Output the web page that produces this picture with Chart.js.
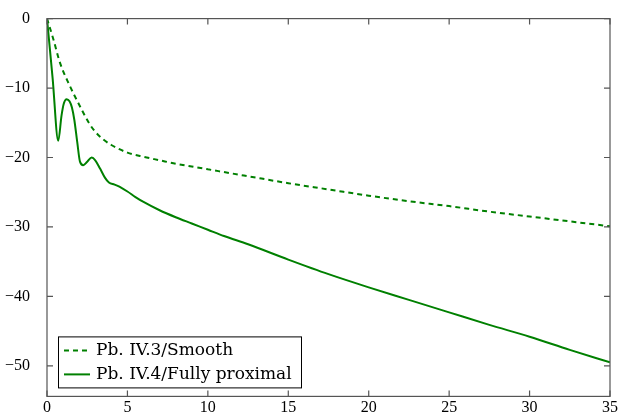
<!DOCTYPE html>
<html lang="en">
<head>
    <meta charset="UTF-8">
    <title>Smooth vs fully proximal</title>
    <script src="https://cdn.jsdelivr.net/npm/chart.js"></script>
    <style>
        body { margin: 0; background: #fff; }
        #wrap { width: 628px; height: 415px; }
    </style>
</head>
<body>
<div id="wrap"><canvas id="mainChart" width="628" height="415"></canvas></div>
<script>
// values
const smoothX = [0, 0.4, 0.8, 1.4, 2.0, 2.6, 3.0, 3.5, 4.0, 4.5, 5.0, 6.0, 7.0, 8.0, 9.0, 10.0,
    12.5, 15.0, 17.5, 20.0, 22.5, 25.0, 27.5, 30.0, 32.5, 35.0];
const smoothY = [0, -3.0, -6.3, -9.6, -12.4, -15.0, -16.3, -17.4, -18.2, -18.8, -19.3, -19.9, -20.4, -20.9, -21.3, -21.7,
    -22.7, -23.7, -24.6, -25.5, -26.3, -27.0, -27.8, -28.5, -29.2, -29.9];

const proxX = [0, 0.35, 0.7, 0.9, 1.05, 1.22, 1.4, 1.55, 1.7, 1.88, 2.05, 2.25, 2.5, 2.78, 3.0, 3.3, 3.6, 3.85,
    4.2, 4.5, 5.0, 5.5, 6.0, 7.0, 8.0, 9.0, 10.0, 11.0, 12.5, 15.0, 17.5, 20.0, 22.5, 25.0, 27.5, 30.0, 32.5, 35.0];
const proxY = [0, -8.6, -17.6, -14.0, -12.2, -11.6, -11.9, -12.8, -14.6, -17.8, -20.6, -21.1, -20.6, -20.0, -20.4, -21.6, -22.9, -23.6,
    -23.9, -24.2, -24.9, -25.7, -26.4, -27.6, -28.6, -29.5, -30.4, -31.3, -32.5, -34.7, -36.8, -38.7, -40.5, -42.3, -44.1, -45.8, -47.7, -49.5];

const xTicks = [0, 5, 10, 15, 20, 25, 30, 35];
const yTicks = [0, -10, -20, -30, -40, -50];
const seriesNames = ['Pb. IV.3/Smooth', 'Pb. IV.4/Fully proximal'];

const green = 'rgb(0,128,0)';
const frameColor = '#555';

function pairs(xs, ys) {
    return xs.map((x, i) => ({x: x, y: ys[i]}));
}

// box around the plot with small inward ticks on every side
const framePlugin = {
    id: 'frame',
    afterDraw(chart) {
        const c = chart.ctx, a = chart.chartArea;
        const xs = chart.scales.x, ys = chart.scales.y;
        c.save();
        c.strokeStyle = frameColor;
        c.lineWidth = 1.2;
        c.strokeRect(a.left, a.top, a.right - a.left, a.bottom - a.top);
        c.beginPath();
        xTicks.forEach(v => {
            const p = xs.getPixelForValue(v);
            c.moveTo(p, a.bottom); c.lineTo(p, a.bottom - 6);
            c.moveTo(p, a.top); c.lineTo(p, a.top + 6);
        });
        yTicks.forEach(v => {
            const p = ys.getPixelForValue(v);
            c.moveTo(a.left, p); c.lineTo(a.left + 6, p);
            c.moveTo(a.right, p); c.lineTo(a.right - 6, p);
        });
        c.stroke();
        c.restore();
    }
};

// legend box in the lower left corner of the plot
const legendPlugin = {
    id: 'boxLegend',
    afterDraw(chart) {
        const c = chart.ctx, a = chart.chartArea;
        const bx = a.left + 11, by = a.bottom - 60, bw = 243, bh = 51;
        c.save();
        c.fillStyle = '#fff';
        c.fillRect(bx, by, bw, bh);
        c.strokeStyle = '#000';
        c.lineWidth = 1;
        c.strokeRect(bx + 0.5, by + 0.5, bw, bh);
        c.font = '17px "DejaVu Serif"';
        c.textBaseline = 'middle';
        chart.data.datasets.forEach((ds, i) => {
            const cy = by + 14 + i * 24;
            c.strokeStyle = ds.borderColor;
            c.lineWidth = 2;
            c.setLineDash(ds.borderDash || []);
            c.beginPath();
            c.moveTo(bx + 6, cy);
            c.lineTo(bx + 32, cy);
            c.stroke();
            c.setLineDash([]);
            c.fillStyle = '#000';
            c.fillText(ds.label, bx + 38, cy);
        });
        c.restore();
    }
};

const ctx = document.getElementById('mainChart').getContext('2d');
new Chart(ctx, {
    type: 'scatter',
    data: {
        datasets: [{
            label: seriesNames[0],
            data: pairs(smoothX, smoothY),
            showLine: true,
            borderColor: green,
            borderWidth: 2,
            borderDash: [5, 4],
            pointRadius: 0,
            cubicInterpolationMode: 'monotone'
        }, {
            label: seriesNames[1],
            data: pairs(proxX, proxY),
            showLine: true,
            borderColor: green,
            borderWidth: 2,
            pointRadius: 0,
            cubicInterpolationMode: 'monotone'
        }]
    },
    options: {
        responsive: false,
        animation: false,
        layout: { padding: { top: 15, right: 18, left: 0, bottom: 0 } },
        plugins: {
            legend: { display: false },
            tooltip: { enabled: false }
        },
        scales: {
            x: {
                type: 'linear',
                min: 0,
                max: 35,
                afterBuildTicks: s => { s.ticks = xTicks.map(v => ({value: v})); },
                afterFit: s => { s.height = 18; },
                grid: { display: false },
                border: { display: false },
                ticks: {
                    color: '#000',
                    padding: -6,
                    font: { family: '"Liberation Serif"', size: 16 }
                }
            },
            y: {
                min: -54.4,
                max: 0,
                afterBuildTicks: s => { s.ticks = yTicks.map(v => ({value: v})); },
                afterFit: s => { s.width = 47; },
                grid: { display: false },
                border: { display: false },
                ticks: {
                    color: '#000',
                    padding: 9,
                    font: { family: '"Liberation Serif"', size: 16 },
                    callback: v => (v < 0 ? '\u2212' + Math.abs(v) : String(v))
                }
            }
        }
    },
    plugins: [framePlugin, legendPlugin]
});
</script>
</body>
</html>
